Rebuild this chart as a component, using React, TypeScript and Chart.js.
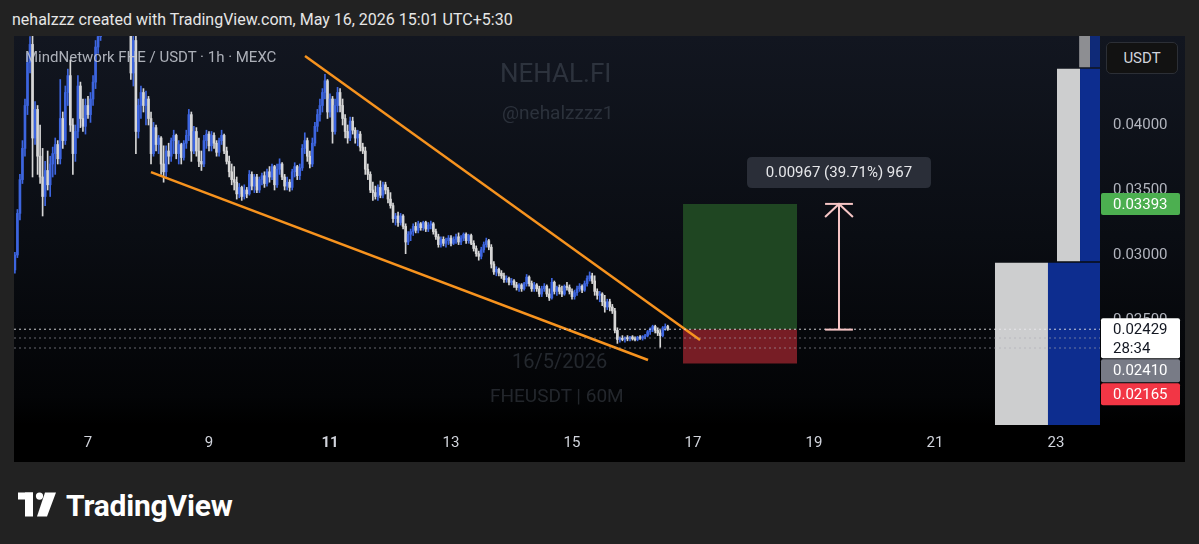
import React, { useEffect, useRef } from "react";
import { Chart, registerables } from "chart.js";

Chart.register(...registerables);

type Bar = [number, number, number, number]; // open, high, low, close (in PRICE_UNIT)

const PRICE_UNIT = 0.00001;

// Hourly FHE/USDT candles, one array per day (MEXC, 1h)
const may05: Bar[] = [
  [2885, 3020, 2860, 3000], [3000, 3350, 2980, 3320], [3320, 3620, 3270, 3580], [3580, 3880, 3550, 3820], [3820, 4200, 3760, 4150],
];
const may06: Bar[] = [
  [4150, 4550, 4080, 4480], [4480, 4680, 4400, 4620], [4620, 4720, 3600, 3900], [3900, 4180, 3850, 4120], [4120, 4150, 3620, 3760],
  [3760, 4000, 3550, 3600], [3600, 3820, 3300, 3450], [3450, 3720, 3380, 3650], [3650, 3800, 3500, 3540], [3540, 3760, 3450, 3700],
  [3700, 3830, 3600, 3780], [3780, 3900, 3620, 3850], [3850, 3880, 3700, 3740], [3740, 4350, 3700, 4050], [4050, 4100, 3820, 3880],
  [3880, 4300, 3850, 4250], [4250, 4430, 4150, 4380], [4380, 4500, 3950, 4000], [4000, 4050, 3620, 3780], [3780, 4000, 3720, 3950],
  [3950, 4380, 3900, 4300], [4300, 4330, 3980, 4050], [4050, 4200, 3950, 3990], [3990, 4200, 3930, 4150],
];
const may07: Bar[] = [
  [4150, 4220, 4050, 4080], [4080, 4250, 4020, 4200], [4200, 4380, 4150, 4330], [4330, 4650, 4280, 4600], [4600, 4720, 4550, 4680],
  [4680, 4900, 4650, 4850], [4850, 5100, 4800, 5050], [5050, 5300, 4950, 5200], [5200, 5400, 5100, 5300], [5300, 5350, 5050, 5150],
  [5150, 5450, 5100, 5350], [5350, 5400, 5150, 5250], [5250, 5300, 5000, 5100], [5100, 5280, 5050, 5200], [5200, 5220, 4950, 5000],
  [5000, 5100, 4880, 4950], [4950, 5000, 4750, 4800], [4800, 4900, 4350, 4400], [4400, 4750, 4300, 4650], [4650, 4700, 3780, 3950],
  [3950, 4200, 3900, 4150], [4150, 4300, 4050, 4250], [4250, 4280, 4100, 4150], [4150, 4260, 4000, 4200],
];
const may08: Bar[] = [
  [4200, 4220, 4000, 4050], [4050, 4100, 3700, 3780], [3780, 4020, 3760, 3980], [3980, 4000, 3800, 3850], [3850, 3920, 3780, 3900],
  [3900, 3910, 3620, 3700], [3700, 3840, 3560, 3640], [3640, 3840, 3600, 3800], [3800, 3860, 3700, 3760], [3760, 3900, 3720, 3880],
  [3880, 3960, 3780, 3920], [3920, 3930, 3740, 3780], [3780, 3880, 3700, 3850], [3850, 3860, 3700, 3750], [3750, 3880, 3730, 3860],
  [3860, 3960, 3820, 3920], [3920, 4120, 3880, 4080], [4080, 4100, 3720, 3800], [3800, 3990, 3780, 3950], [3950, 3980, 3760, 3800],
  [3800, 3900, 3680, 3720], [3720, 3800, 3650, 3700], [3700, 3920, 3680, 3880], [3880, 3960, 3820, 3930],
];
const may09: Bar[] = [
  [3930, 3950, 3800, 3840], [3840, 3950, 3800, 3920], [3920, 3940, 3820, 3860], [3860, 3880, 3760, 3790], [3790, 3900, 3760, 3880],
  [3880, 3960, 3850, 3920], [3920, 3930, 3780, 3800], [3800, 3830, 3700, 3720], [3720, 3760, 3600, 3640], [3640, 3700, 3540, 3580],
  [3580, 3680, 3500, 3560], [3560, 3600, 3430, 3470], [3470, 3550, 3440, 3520], [3520, 3530, 3420, 3450], [3450, 3540, 3430, 3500],
  [3500, 3520, 3440, 3470], [3470, 3650, 3460, 3620], [3620, 3640, 3500, 3530], [3530, 3620, 3480, 3600], [3600, 3620, 3480, 3500],
  [3500, 3600, 3480, 3580], [3580, 3630, 3540, 3610], [3610, 3640, 3520, 3550], [3550, 3660, 3530, 3640],
];
const may10: Bar[] = [
  [3640, 3680, 3560, 3600], [3600, 3700, 3580, 3680], [3680, 3690, 3500, 3540], [3540, 3700, 3520, 3660], [3660, 3740, 3620, 3700],
  [3700, 3710, 3580, 3600], [3600, 3620, 3500, 3530], [3530, 3600, 3500, 3560], [3560, 3580, 3490, 3520], [3520, 3660, 3500, 3640],
  [3640, 3710, 3600, 3680], [3680, 3690, 3580, 3610], [3610, 3700, 3580, 3670], [3670, 3850, 3650, 3820], [3820, 3940, 3780, 3880],
  [3880, 3900, 3720, 3760], [3760, 3800, 3670, 3700], [3700, 3900, 3680, 3860], [3860, 4020, 3840, 3990], [3990, 4120, 3950, 4080],
  [4080, 4200, 4030, 4150], [4150, 4280, 4100, 4250], [4250, 4390, 4200, 4340], [4340, 4350, 4050, 4100],
];
const may11: Bar[] = [
  [4100, 4240, 4060, 4200], [4200, 4220, 3860, 3950], [3950, 4200, 3930, 4150], [4150, 4290, 4100, 4250], [4250, 4280, 4100, 4150],
  [4150, 4200, 4000, 4050], [4050, 4080, 3900, 3950], [3950, 4000, 3860, 3900], [3900, 4060, 3880, 4030], [4030, 4060, 3930, 3960],
  [3960, 3980, 3860, 3900], [3900, 3960, 3840, 3930], [3930, 3950, 3800, 3830], [3830, 3860, 3780, 3800], [3800, 3830, 3620, 3660],
  [3660, 3700, 3580, 3620], [3620, 3640, 3480, 3500], [3500, 3560, 3420, 3480], [3480, 3530, 3430, 3450], [3450, 3540, 3420, 3520],
  [3520, 3570, 3440, 3460], [3460, 3560, 3440, 3540], [3540, 3560, 3470, 3500], [3500, 3520, 3400, 3430],
];
const may12: Bar[] = [
  [3430, 3480, 3360, 3380], [3380, 3400, 3250, 3280], [3280, 3320, 3230, 3300], [3300, 3330, 3220, 3250], [3250, 3320, 3230, 3300],
  [3300, 3310, 3200, 3220], [3220, 3240, 3010, 3100], [3100, 3180, 3080, 3160], [3160, 3200, 3110, 3180], [3180, 3240, 3150, 3220],
  [3220, 3250, 3170, 3190], [3190, 3260, 3170, 3240], [3240, 3250, 3190, 3210], [3210, 3260, 3190, 3250], [3250, 3260, 3180, 3200],
  [3200, 3250, 3180, 3230], [3230, 3260, 3200, 3240], [3240, 3250, 3160, 3180], [3180, 3200, 3120, 3140], [3140, 3160, 3060, 3080],
  [3080, 3140, 3060, 3120], [3120, 3140, 3070, 3090], [3090, 3130, 3060, 3110], [3110, 3150, 3080, 3130],
];
const may13: Bar[] = [
  [3130, 3150, 3070, 3090], [3090, 3140, 3080, 3120], [3120, 3160, 3090, 3140], [3140, 3170, 3080, 3100], [3100, 3150, 3080, 3130],
  [3130, 3170, 3110, 3160], [3160, 3170, 3090, 3110], [3110, 3160, 3090, 3150], [3150, 3160, 3080, 3090], [3090, 3110, 3030, 3050],
  [3050, 3070, 2990, 3010], [3010, 3030, 2960, 2990], [2990, 3060, 2970, 3040], [3040, 3100, 3020, 3080], [3080, 3130, 3060, 3110],
  [3110, 3120, 3040, 3060], [3060, 3080, 2900, 2930], [2930, 2950, 2850, 2870], [2870, 2910, 2840, 2890], [2890, 2900, 2840, 2860],
  [2860, 2880, 2820, 2840], [2840, 2860, 2790, 2810], [2810, 2840, 2790, 2820], [2820, 2830, 2770, 2790],
];
const may14: Bar[] = [
  [2790, 2820, 2770, 2800], [2800, 2810, 2750, 2770], [2770, 2790, 2730, 2750], [2750, 2780, 2720, 2770], [2770, 2780, 2720, 2740],
  [2740, 2790, 2730, 2780], [2780, 2850, 2760, 2830], [2830, 2840, 2760, 2780], [2780, 2800, 2720, 2740], [2740, 2790, 2720, 2770],
  [2770, 2780, 2720, 2740], [2740, 2760, 2680, 2700], [2700, 2760, 2680, 2740], [2740, 2780, 2720, 2760], [2760, 2770, 2680, 2700],
  [2700, 2740, 2650, 2670], [2670, 2820, 2660, 2790], [2790, 2800, 2700, 2720], [2720, 2760, 2690, 2750], [2750, 2770, 2700, 2720],
  [2720, 2760, 2680, 2700], [2700, 2770, 2690, 2760], [2760, 2790, 2730, 2750], [2750, 2770, 2700, 2720],
];
const may15: Bar[] = [
  [2720, 2740, 2660, 2680], [2680, 2730, 2660, 2710], [2710, 2760, 2690, 2740], [2740, 2780, 2720, 2760], [2760, 2770, 2710, 2730],
  [2730, 2800, 2720, 2780], [2780, 2840, 2760, 2820], [2820, 2870, 2800, 2840], [2840, 2860, 2780, 2800], [2800, 2840, 2690, 2720],
  [2720, 2740, 2660, 2690], [2690, 2720, 2640, 2700], [2700, 2710, 2610, 2640], [2640, 2690, 2560, 2600], [2600, 2660, 2580, 2640],
  [2640, 2660, 2570, 2600], [2600, 2620, 2550, 2570], [2570, 2590, 2400, 2420], [2420, 2440, 2320, 2350], [2350, 2370, 2330, 2360],
  [2360, 2380, 2340, 2350], [2350, 2370, 2330, 2365], [2365, 2380, 2340, 2355], [2355, 2375, 2340, 2370],
];
const may16: Bar[] = [
  [2370, 2380, 2345, 2355], [2355, 2370, 2340, 2350], [2350, 2375, 2340, 2368], [2368, 2380, 2350, 2360], [2360, 2380, 2345, 2372],
  [2372, 2390, 2355, 2380], [2380, 2420, 2370, 2410], [2410, 2440, 2390, 2430], [2430, 2460, 2410, 2450], [2450, 2460, 2400, 2420],
  [2420, 2440, 2380, 2400], [2400, 2420, 2290, 2380], [2380, 2450, 2370, 2440], [2440, 2470, 2420, 2450], [2450, 2460, 2420, 2429],
];

const sessionDays = [5, 6, 7, 8, 9, 10, 11, 12, 13, 14, 15, 16];
const sessionStartHours = [19, 0, 0, 0, 0, 0, 0, 0, 0, 0, 0, 0];
const sessionBars = [may05, may06, may07, may08, may09, may10, may11, may12, may13, may14, may15, may16];

// Axes
const dayTicks = [7, 9, 11, 13, 15, 17, 19, 21, 23];
const priceTicks = [0.025, 0.03, 0.035, 0.04];
const X_MIN = 5.777;
const X_MAX = 23.727;
const Y_MIN = 0.016923;
const Y_MAX = 0.046846;

// Drawings
const upperTrendX = [10.587, 17.116];
const upperTrendY = [0.04531, 0.02346];
const lowerTrendX = [8.041, 16.256];
const lowerTrendY = [0.03638, 0.02192];

const positionSpan = [16.835, 18.719];
const ENTRY = 0.02429;
const TARGET = 0.03393;
const STOP = 0.02165;

const MEASURE_X = 19.413;
const MEASURE_FROM = 0.02426;
const MEASURE_TO = 0.03393;
const MEASURE_HEAD = 0.032923;
const MEASURE_CAP = 0.23;
const measureText = "0.00967 (39.71%) 967";

const refLevels = [0.02429, 0.023615, 0.022846];

// Visible range volume profile (rows centred on price, volumes in millions)
const profileRowPrices = [0.022, 0.03692, 0.05185];
const profileUpVol = [4.88, 2.12, 1.0];
const profileDownVol = [4.79, 1.84, 0.92];
const PROFILE_MAX = 100;

const LAST = 0.02429;
const countdown = "28:34";
const prevClose = 0.0241;

const UP = "#3d65df";
const DOWN = "#d6d6d6";
const ORANGE = "#f7931e";
const PINK = "#f6c5c5";

const candles = sessionBars.flatMap((bars, d) =>
  bars.map(([o, h, l, c], j) => ({
    t: sessionDays[d] + (sessionStartHours[d] + j) / 24,
    o: o * PRICE_UNIT,
    h: h * PRICE_UNIT,
    l: l * PRICE_UNIT,
    c: c * PRICE_UNIT,
  }))
);

const line = (xs: number[], ys: number[], color: string, width: number, extra: any = {}) => ({
  type: "line",
  data: xs.map((x, i) => ({ x, y: ys[i] })),
  borderColor: color,
  borderWidth: width,
  pointRadius: 0,
  fill: false,
  xAxisID: "x",
  yAxisID: "y",
  clip: 0,
  ...extra,
});

function roundRect(ctx: CanvasRenderingContext2D, x: number, y: number, w: number, h: number, r: number) {
  ctx.beginPath();
  ctx.moveTo(x + r, y);
  ctx.lineTo(x + w - r, y);
  ctx.quadraticCurveTo(x + w, y, x + w, y + r);
  ctx.lineTo(x + w, y + h - r);
  ctx.quadraticCurveTo(x + w, y + h, x + w - r, y + h);
  ctx.lineTo(x + r, y + h);
  ctx.quadraticCurveTo(x, y + h, x, y + h - r);
  ctx.lineTo(x, y + r);
  ctx.quadraticCurveTo(x, y, x + r, y);
  ctx.closePath();
}

const overlayPlugin = {
  id: "tvOverlay",
  afterDraw(chart: any) {
    const { ctx, chartArea, scales } = chart;
    const xs = scales.x;
    const ys = scales.y;
    ctx.save();
    // measure label
    const mx = xs.getPixelForValue(MEASURE_X);
    const my = ys.getPixelForValue(MEASURE_TO);
    const bw = 184;
    const bh = 31;
    roundRect(ctx, mx - bw / 2, my - 16 - bh, bw, bh, 5);
    ctx.fillStyle = "#2a2e38";
    ctx.fill();
    ctx.font = "15px Roboto";
    ctx.fillStyle = "#e6e7ea";
    ctx.textAlign = "center";
    ctx.textBaseline = "middle";
    ctx.fillText(measureText, mx, my - 16 - bh / 2 + 1);

    // price tags on the axis
    const tx = chartArea.right + 1;
    const tw = 79;
    const textX = chartArea.right + 13;
    ctx.textAlign = "left";
    const tag = (top: number, h: number, bg: string, fg: string, lines: string[], firstY: number) => {
      roundRect(ctx, tx, top, tw, h, 2);
      ctx.fillStyle = bg;
      ctx.fill();
      ctx.fillStyle = fg;
      lines.forEach((s, i) => ctx.fillText(s, textX, firstY + i * 19));
    };
    const ty = ys.getPixelForValue(TARGET);
    tag(ty - 11, 22, "#4caf50", "#ffffff", [TARGET.toFixed(5)], ty + 1);
    const ly = ys.getPixelForValue(LAST);
    tag(ly - 11, 40, "#ffffff", "#131722", [LAST.toFixed(5), countdown], ly + 1);
    tag(ly + 30, 23, "#787b86", "#ffffff", [prevClose.toFixed(5)], ly + 42);
    tag(ly + 54, 22, "#f23645", "#ffffff", [STOP.toFixed(5)], ly + 66);
    ctx.restore();
  },
};

export default function App() {
  const ref = useRef<HTMLCanvasElement>(null);

  useEffect(() => {
    const candleColors = candles.map((k) => (k.c >= k.o ? UP : DOWN));
    const datasets: any[] = [
      // volume profile
      {
        type: "bar",
        indexAxis: "y",
        xAxisID: "xv",
        yAxisID: "yv",
        data: profileRowPrices.map((p, i) => ({ y: p, x: [0, profileDownVol[i]] })),
        backgroundColor: ["#0d2d8f", "#0d2d8f", "#0f2a78"],
        barPercentage: 0.992,
        categoryPercentage: 1,
        grouped: false,
        order: 20,
        clip: 0,
      },
      {
        type: "bar",
        indexAxis: "y",
        xAxisID: "xv",
        yAxisID: "yv",
        data: profileRowPrices.map((p, i) => ({ y: p, x: [profileDownVol[i], profileDownVol[i] + profileUpVol[i]] })),
        backgroundColor: ["#cdcecf", "#cdcecf", "#8d8e92"],
        barPercentage: 0.992,
        categoryPercentage: 1,
        grouped: false,
        order: 20,
        clip: 0,
      },
      // long position boxes
      line(positionSpan, [TARGET, TARGET], "rgba(0,0,0,0)", 0, { fill: { value: ENTRY }, backgroundColor: "#1f4622", order: 15 }),
      line(positionSpan, [STOP, STOP], "rgba(0,0,0,0)", 0, { fill: { value: ENTRY }, backgroundColor: "#771d25", order: 15 }),
      // candles: wicks then bodies
      {
        type: "bar",
        xAxisID: "x",
        yAxisID: "y",
        data: candles.map((k) => ({ x: k.t, y: [k.l, k.h] })),
        backgroundColor: candleColors,
        barThickness: 1,
        grouped: false,
        order: 8,
        clip: 0,
      },
      {
        type: "bar",
        xAxisID: "x",
        yAxisID: "y",
        data: candles.map((k) => ({ x: k.t, y: [k.o, k.c] })),
        backgroundColor: candleColors,
        barThickness: 2,
        minBarLength: 1,
        grouped: false,
        order: 7,
        clip: 0,
      },
      // wedge
      line(upperTrendX, upperTrendY, ORANGE, 2.5, { order: 3 }),
      line(lowerTrendX, lowerTrendY, ORANGE, 2.5, { order: 3 }),
      // reference dotted levels
      ...refLevels.map((v, i) =>
        line([X_MIN, X_MAX], [v, v], i === 0 ? "rgba(235,235,240,0.85)" : "rgba(170,172,180,0.6)", 1, {
          borderDash: [2, 3],
          order: 2,
        })
      ),
      // measure arrow
      line([MEASURE_X, MEASURE_X], [MEASURE_FROM, MEASURE_TO], PINK, 2, { order: 1 }),
      line([MEASURE_X - MEASURE_CAP, MEASURE_X + MEASURE_CAP], [MEASURE_TO, MEASURE_TO], PINK, 2, { order: 1 }),
      line([MEASURE_X - MEASURE_CAP, MEASURE_X + MEASURE_CAP], [MEASURE_FROM, MEASURE_FROM], PINK, 2, { order: 1 }),
      line(
        [MEASURE_X - MEASURE_CAP, MEASURE_X, MEASURE_X + MEASURE_CAP],
        [MEASURE_HEAD, MEASURE_TO, MEASURE_HEAD],
        PINK,
        2,
        { order: 1 }
      ),
    ];

    const chart = new Chart(ref.current as HTMLCanvasElement, {
      type: "bar",
      data: { datasets },
      options: {
        animation: false,
        responsive: false,
        devicePixelRatio: 1,
        events: [],
        layout: { padding: 0 },
        plugins: { legend: { display: false }, tooltip: { enabled: false } },
        scales: {
          x: {
            type: "linear",
            position: "bottom",
            min: X_MIN,
            max: X_MAX,
            offset: false,
            grid: { display: false, drawTicks: false },
            border: { display: false },
            afterBuildTicks: (s: any) => {
              s.ticks = dayTicks.map((v) => ({ value: v }));
            },
            afterFit: (s: any) => {
              s.height = 37;
              s.paddingLeft = 0;
              s.paddingRight = 0;
            },
            ticks: {
              padding: 9,
              color: "#d1d4dc",
              maxRotation: 0,
              autoSkip: false,
              font: (c: any) => ({
                family: "Roboto",
                size: 15,
                weight: c.tick && c.tick.value === 11 ? "bold" : "normal",
              }),
              callback: (v: any) => String(v),
            },
          },
          y: {
            type: "linear",
            position: "right",
            min: Y_MIN,
            max: Y_MAX,
            grid: { display: false, drawTicks: false },
            border: { display: false },
            afterBuildTicks: (s: any) => {
              s.ticks = priceTicks.map((v) => ({ value: v }));
            },
            afterFit: (s: any) => {
              s.width = 85;
              s.paddingTop = 0;
              s.paddingBottom = 0;
            },
            ticks: {
              padding: 13,
              color: "#b2b5be",
              font: { family: "Roboto", size: 15 },
              callback: (v: any) => Number(v).toFixed(5),
            },
          },
          xv: {
            type: "linear",
            display: false,
            reverse: true,
            min: 0,
            max: PROFILE_MAX,
            offset: false,
          },
          yv: {
            type: "linear",
            display: false,
            min: Y_MIN,
            max: Y_MAX,
            offset: false,
            afterBuildTicks: (s: any) => {
              s.ticks = [];
            },
          },
        },
      } as any,
      plugins: [overlayPlugin],
    } as any);
    return () => chart.destroy();
  }, []);

  const wm = { position: "absolute" as const, color: "rgba(120,128,145,0.28)", whiteSpace: "nowrap" as const, pointerEvents: "none" as const };

  return (
    <div
      style={{
        position: "relative",
        width: 1199,
        height: 544,
        background: "#222222",
        overflow: "hidden",
        fontFamily: "Roboto, 'Noto Sans', sans-serif",
      }}
    >
      <style>{`body{margin:0;background:#222222;}`}</style>
      <div style={{ position: "absolute", left: 12, top: 10, fontSize: 16, color: "#e6e6e6", whiteSpace: "nowrap" }}>
        nehalzzz created with TradingView.com, May 16, 2026 15:01 UTC+5:30
      </div>
      <div
        style={{
          position: "absolute",
          left: 14,
          top: 36,
          width: 1171,
          height: 426,
          background: "linear-gradient(180deg, #121620 0px, #0a0d13 200px, #030406 360px, #000 389px, #000 426px)",
        }}
      >
        <canvas ref={ref} width={1171} height={426} style={{ display: "block", position: "absolute", left: 0, top: 0 }} />
        <div style={{ ...wm, left: 486, top: 22, fontSize: 26 }}>NEHAL.FI</div>
        <div style={{ ...wm, left: 488, top: 65, fontSize: 19 }}>@nehalzzzz1</div>
        <div style={{ ...wm, left: 498, top: 313, fontSize: 20 }}>16/5/2026</div>
        <div style={{ ...wm, left: 476, top: 348, fontSize: 19 }}>FHEUSDT | 60M</div>
        <div
          style={{
            position: "absolute",
            left: 11,
            top: 12,
            fontSize: 15,
            color: "rgba(200,203,212,0.85)",
            whiteSpace: "nowrap",
            pointerEvents: "none",
          }}
        >
          MindNetwork FHE / USDT · 1h · MEXC
        </div>
        <div
          style={{
            position: "absolute",
            left: 1092,
            top: 6,
            width: 72,
            height: 32,
            boxSizing: "border-box",
            border: "1px solid #2c2f36",
            borderRadius: 5,
            background: "#121212",
            color: "#d1d4dc",
            fontSize: 15,
            lineHeight: "30px",
            textAlign: "center",
          }}
        >
          USDT
        </div>
      </div>
      <div style={{ position: "absolute", left: 18, top: 488, display: "flex", alignItems: "center" }}>
        <svg width="40" height="27" viewBox="0 0 40 26">
          <rect x="0" y="0" width="15" height="7" fill="#ffffff" />
          <rect x="7" y="0" width="8" height="24" fill="#ffffff" />
          <circle cx="21.5" cy="3.6" r="3.6" fill="#ffffff" />
          <polygon points="27,0 38,0 29,24 19,24" fill="#ffffff" />
        </svg>
        <span style={{ marginLeft: 8, fontSize: 30, fontWeight: 700, color: "#ffffff", letterSpacing: -0.2 }}>TradingView</span>
      </div>
    </div>
  );
}
